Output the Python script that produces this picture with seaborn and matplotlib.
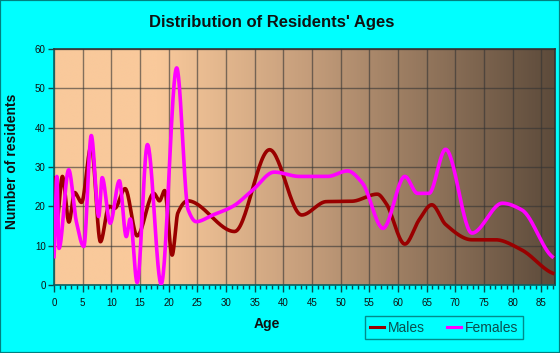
import numpy as np
import pandas as pd
import matplotlib
matplotlib.use("Agg")
import matplotlib.pyplot as plt
import seaborn as sns
from matplotlib.patches import Rectangle
from matplotlib.colors import LinearSegmentedColormap

# ---- data ----
male_age = [0, 0.5, 1.46, 2.6, 3.6, 4.8, 6.5, 8.1, 9.6, 10.6, 12.4, 14.5, 17.4, 18.4,
            19.3, 20.6, 21.6, 23.3, 31.5, 37.6, 43.2, 47.5, 52.0, 56.4, 57.9, 61.2,
            63.7, 65.9, 68.3, 72.9, 77.0, 81.6, 87.0]
male_val = [27.2, 16.5, 27.6, 16.0, 23.5, 21.0, 35.4, 11.0, 20.0, 19.5, 24.5, 12.5, 23.3, 21.4,
            24.0, 7.6, 18.3, 21.4, 13.6, 34.4, 17.8, 21.2, 21.3, 23.1, 20.8, 10.4,
            16.6, 20.4, 15.4, 11.5, 11.5, 8.9, 3.0]
female_age = [0, 0.5, 0.87, 2.56, 3.9, 5.2, 6.5, 7.8, 8.4, 9.8, 11.4, 12.6, 13.3, 14.5,
              16.3, 18.7, 21.4, 23.4, 24.8, 27.7, 31.2, 34.7, 38.4, 42.8, 47.7, 51.2,
              53.8, 57.4, 61.2, 63.4, 65.4, 68.3, 72.9, 78.2, 81.6, 86.9]
female_val = [7.2, 27.6, 9.3, 29.3, 16.1, 9.8, 38.0, 17.4, 27.3, 15.7, 26.5, 12.3, 16.8, 0.6,
              35.7, 0.2, 55.2, 19.1, 16.1, 17.8, 20.0, 24.2, 28.7, 27.6, 27.6, 29.0,
              25.9, 14.4, 27.6, 23.3, 23.3, 34.5, 13.2, 20.8, 19.1, 7.2]
x_ticks = list(range(0, 90, 5))
y_ticks = list(range(0, 70, 10))
series_names = ["Males", "Females"]
series_colors = ["#990000", "#ff00ff"]


def pchip(x, y, n=30):
    """Smoothed-line rendering (shape preserving cubic) through the read points."""
    x = np.asarray(x, float); y = np.asarray(y, float)
    h = np.diff(x); d = np.diff(y) / h
    m = np.zeros_like(y)
    for k in range(1, len(x) - 1):
        if d[k - 1] * d[k] > 0:
            w1 = 2 * h[k] + h[k - 1]; w2 = h[k] + 2 * h[k - 1]
            m[k] = (w1 + w2) / (w1 / d[k - 1] + w2 / d[k])
    m[0] = d[0] * 0.5; m[-1] = d[-1] * 0.5
    xs, ys = [], []
    for k in range(len(x) - 1):
        t = np.linspace(0, 1, n, endpoint=False)
        h00 = 2 * t**3 - 3 * t**2 + 1; h10 = t**3 - 2 * t**2 + t
        h01 = -2 * t**3 + 3 * t**2; h11 = t**3 - t**2
        xs.append(x[k] + t * h[k])
        ys.append(h00 * y[k] + h10 * h[k] * m[k] + h01 * y[k + 1] + h11 * h[k] * m[k + 1])
    xs.append([x[-1]]); ys.append([y[-1]])
    return np.concatenate(xs), np.concatenate(ys)


W, H = 560, 353
fig = plt.figure(figsize=(W / 100, H / 100), dpi=100)
fig.patch.set_facecolor("#00ffff")
fig.patches.append(Rectangle((0, 0), 1, 1, transform=fig.transFigure, fill=False,
                             edgecolor="#008080", linewidth=1.6, zorder=10))

ax = fig.add_axes([54 / W, 1 - 285 / H, (554.5 - 54) / W, (285 - 49) / H])
xmax = 87.3
ax.set_xlim(0, xmax)
ax.set_ylim(0, 60)

# background gradient
cmap = LinearSegmentedColormap.from_list(
    "bg", [(0, "#f9c99b"), (18 / xmax, "#f9c99b"), (45 / xmax, "#c39c7a"),
           (1, "#5d4b3b")])
grad = np.linspace(0, 1, 400).reshape(1, -1)
ax.imshow(grad, extent=[0, xmax, 0, 60], aspect="auto", cmap=cmap, zorder=0,
          interpolation="bilinear")

frames = []
for name, ages, vals in [("Males", male_age, male_val), ("Females", female_age, female_val)]:
    sx, sy = pchip(ages, vals)
    frames.append(pd.DataFrame({"Age": sx, "Residents": sy, "Sex": name}))
df = pd.concat(frames, ignore_index=True)

sns.lineplot(data=df, x="Age", y="Residents", hue="Sex", hue_order=series_names,
             palette=series_colors, sort=False, estimator=None, linewidth=2.6,
             ax=ax, legend=False, zorder=3, clip_on=True)

ax.set_xticks(x_ticks)
ax.set_yticks(y_ticks)
ax.set_xticks(np.arange(0, 88, 1), minor=True)
ax.grid(True, which="major", color="#333333", alpha=0.6, linewidth=1)
for gl in ax.get_xgridlines() + ax.get_ygridlines():
    gl.set_zorder(1)
ax.tick_params(axis="x", which="major", length=5, width=1, color="#0a4a4a",
               labelsize=7, pad=4, labelcolor="#111111")
ax.tick_params(axis="x", which="minor", length=3, width=1, color="#0a4a4a")
ax.tick_params(axis="y", which="major", length=4, width=1, color="#0a4a4a",
               labelsize=7, pad=2, labelcolor="#111111")
for lab in ax.get_xticklabels() + ax.get_yticklabels():
    lab.set_fontfamily("Liberation Sans")
ax.set_xlabel(""); ax.set_ylabel("")
for s in ["left", "bottom"]:
    ax.spines[s].set_color("#0a6060"); ax.spines[s].set_linewidth(1.2)
for s in ["top", "right"]:
    ax.spines[s].set_color("#333333"); ax.spines[s].set_linewidth(1.2)

fig.text(272 / W, 1 - 23 / H, "Distribution of Residents' Ages", ha="center", va="center",
         fontsize=12, fontweight="bold", family="Liberation Sans", color="#111111")
fig.text(12 / W, 1 - 161.5 / H, "Number of residents", ha="center", va="center",
         rotation=90, fontsize=10, fontweight="bold", family="Liberation Sans",
         color="#111111")
fig.text(267 / W, 1 - 324 / H, "Age", ha="center", va="center", fontsize=10,
         fontweight="bold", family="Liberation Sans", color="#111111")

handles = [plt.Line2D([], [], color=c, linewidth=2.2) for c in series_colors]
leg = fig.legend(handles, series_names, loc="center",
                 bbox_to_anchor=(444 / W, 1 - 327.5 / H), ncol=2, frameon=True,
                 fancybox=False, handlelength=1.0, handletextpad=0.3,
                 columnspacing=1.6, borderpad=0.35,
                 prop={"family": "Liberation Sans", "size": 10})
leg.get_frame().set_edgecolor("#007070")
leg.get_frame().set_facecolor("none")
leg.get_frame().set_linewidth(1)
for t in leg.get_texts():
    t.set_color("#0a4f4f")

fig.savefig("out.png", dpi=100, facecolor=fig.get_facecolor())
